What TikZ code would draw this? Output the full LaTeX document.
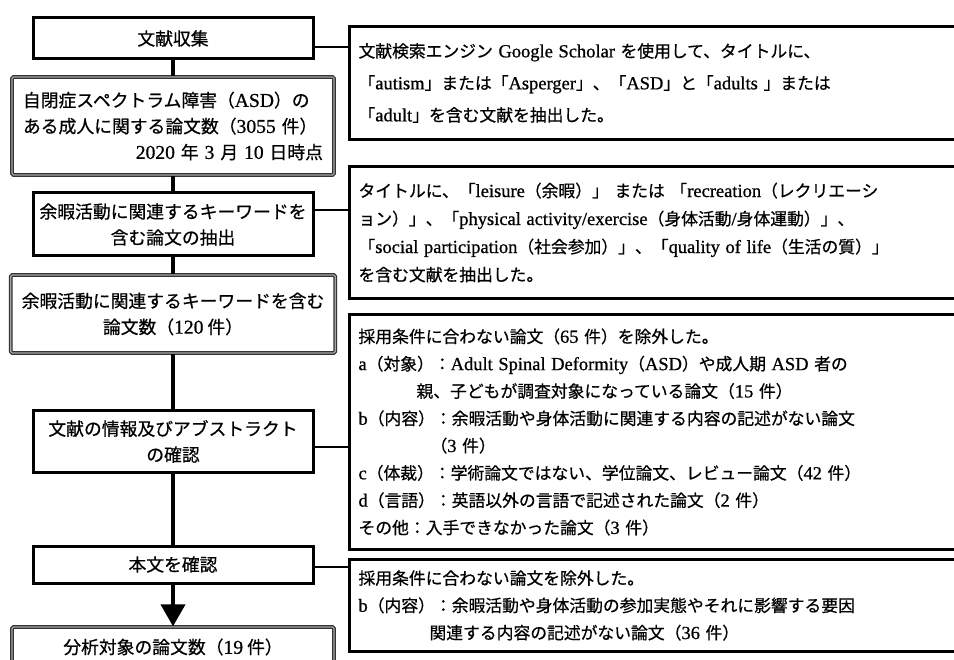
\documentclass[tikz,border=0pt]{standalone}
\usepackage{fontspec}
\setmainfont{Noto Sans CJK JP}[FakeBold=0.6]
\newfontfamily\latf[Scale=1.1, FakeBold=0.8]{Liberation Serif}
\newcommand\la[1]{{\latf #1}}
\usetikzlibrary{arrows.meta}
\begin{document}
\begin{tikzpicture}[x=1pt,y=-1pt,
  lbox/.style={draw=black, line width=3pt, minimum width=280pt, align=center, inner sep=0pt, font=\fontsize{17.8}{26}\selectfont},
  dbox/.style={draw=black!80, line width=1.3pt, double=black!35, double distance=1.2pt, rounded corners=1.5pt, minimum width=322pt, inner xsep=11pt, inner ysep=0pt, font=\fontsize{17.8}{26}\selectfont},
  rbox/.style={draw=black, line width=3pt, anchor=north west, text width=630pt, inner xsep=9pt, inner ysep=0pt, align=left, font=\fontsize{16.8}{27.3}\selectfont},
  conn/.style={line width=2pt},
  spine/.style={line width=4pt},
]
\useasboundingbox (0,0) rectangle (954,660);
\clip (0,0) rectangle (954,660);
\fill[white] (0,0) rectangle (954,660);

% left column
\node[lbox, minimum height=41pt] (b1) at (173,38.5) {文献収集};
\node[dbox, minimum height=98pt, text width=300pt, align=left] (b2) at (173,126)
  {自閉症スペクトラム障害（\la{ASD}）の\\
   ある成人に関する論文数（\la{3055} 件）\\
   \hfill\la{2020} 年 \la{3} 月 \la{10} 日時点};
\node[lbox, minimum height=63pt] (b3) at (173,224.5)
  {余暇活動に関連するキーワードを\\含む論文の抽出};
\node[dbox, minimum height=78pt, align=center] (b4) at (173,314)
  {余暇活動に関連するキーワードを含む\\論文数（\la{120} 件）};
\node[lbox, minimum height=61pt] (b5) at (173,441.5)
  {文献の情報及びアブストラクト\\の確認};
\node[lbox, minimum height=37pt] (b6) at (173,564.5) {本文を確認};
\node[dbox, minimum height=40pt, align=center] (b7) at (173,647)
  {分析対象の論文数（\la{19} 件）};

% right column
\node[rbox, minimum height=113pt, font=\fontsize{16.8}{32}\selectfont] (r1) at (348,25)
  {文献検索エンジン \la{Google Scholar} を使用して、タイトルに、\\
   「\la{autism}」または「\la{Asperger}」、「\la{ASD}」と「\la{adults} 」または\\
   「\la{adult}」を含む文献を抽出した。};
\node[rbox, minimum height=132pt, font=\fontsize{16.8}{28}\selectfont] (r2) at (348,165)
  {タイトルに、「\la{leisure}（余暇）」 または 「\la{recreation}（レクリエーシ\\
   ョン）」、「\la{physical activity/exercise}（身体活動\la{/}身体運動）」、\\
   「\la{social participation}（社会参加）」、「\la{quality of life}（生活の質）」\\
   を含む文献を抽出した。};
\node[rbox, minimum height=235pt] (r3) at (348,313)
  {採用条件に合わない論文（\la{65} 件）を除外した。\\
   \la{a}（対象）：\la{Adult Spinal Deformity}（\la{ASD}）や成人期 \la{ASD} 者の\\
   \hspace*{58pt}親、子どもが調査対象になっている論文（\la{15} 件）\\
   \la{b}（内容）：余暇活動や身体活動に関連する内容の記述がない論文\\
   \hspace*{72pt}（\la{3} 件）\\
   \la{c}（体裁）：学術論文ではない、学位論文、レビュー論文（\la{42} 件）\\
   \la{d}（言語）：英語以外の言語で記述された論文（\la{2} 件）\\
   その他：入手できなかった論文（\la{3} 件）};
\node[rbox, minimum height=92pt] (r4) at (348,558)
  {採用条件に合わない論文を除外した。\\
   \la{b}（内容）：余暇活動や身体活動の参加実態やそれに影響する要因\\
   \hspace*{71pt}関連する内容の記述がない論文（\la{36} 件）};

% spine
\draw[spine] (b1.south) -- (b1.south |- b2.north);
\draw[spine] (b2.south) -- (b2.south |- b3.north);
\draw[spine] (b3.south) -- (b3.south |- b4.north);
\draw[spine] (b4.south) -- (b4.south |- b5.north);
\draw[spine] (b5.south) -- (b5.south |- b6.north);
\draw[spine, -{Triangle[width=24pt,length=22pt]}] (b6.south) -- (b6.south |- b7.north);

% connectors
\draw[conn] ([yshift=-8.5pt]b1.east) -- ([yshift=-8.5pt]b1.east -| r1.west);
\draw[conn] ([yshift=14.5pt]b3.east) -- ([yshift=14.5pt]b3.east -| r2.west);
\draw[conn] ([yshift=-5.5pt]b5.east) -- ([yshift=-5.5pt]b5.east -| r3.west);
\draw[conn] ([yshift=-2.5pt]b6.east) -- ([yshift=-2.5pt]b6.east -| r4.west);
\end{tikzpicture}
\end{document}
